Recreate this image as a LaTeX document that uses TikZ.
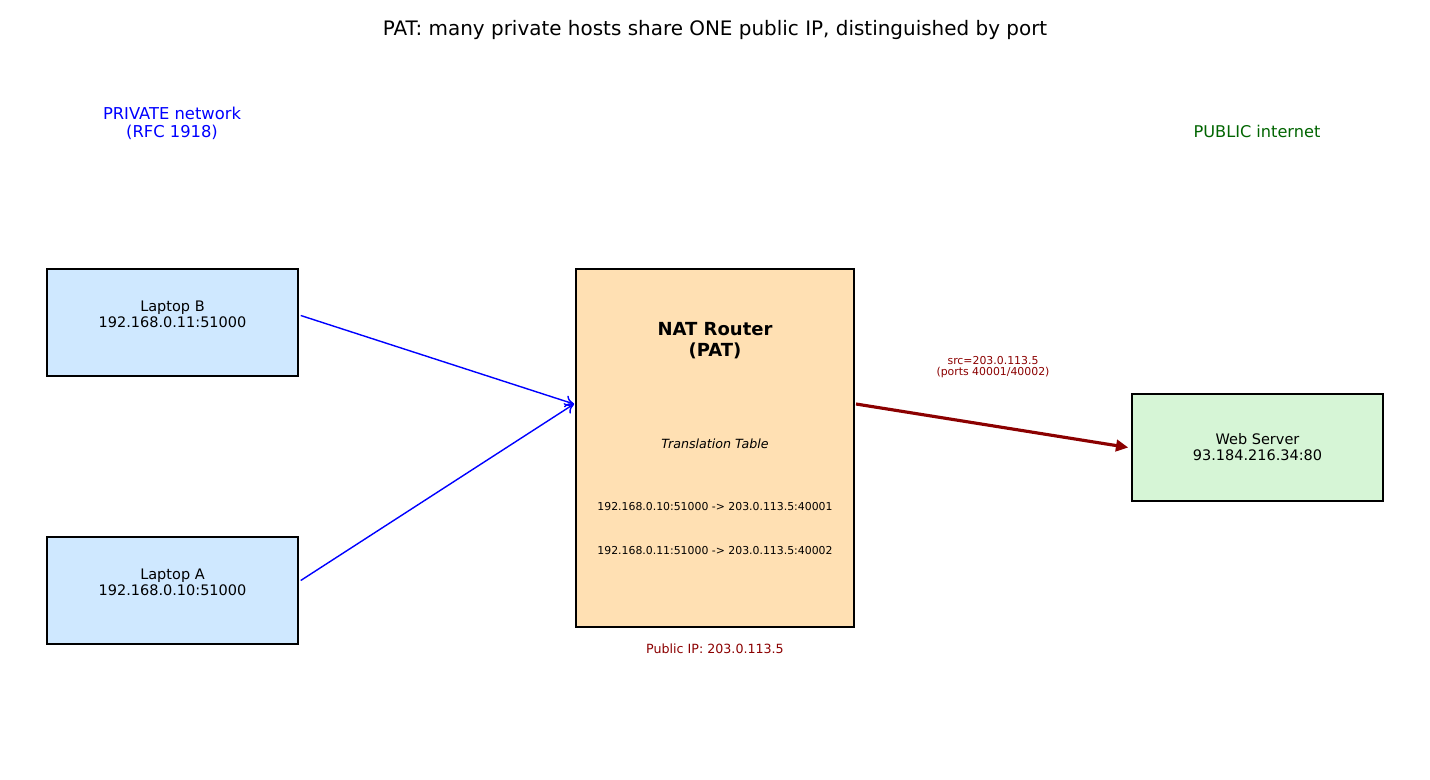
\documentclass[tikz,border=0pt]{standalone}
\usepackage{fontspec}
\setmainfont{DejaVu Sans}
\usetikzlibrary{arrows.meta}
\definecolor{hostblue}{HTML}{CFE8FF}
\definecolor{natorange}{HTML}{FFE0B3}
\definecolor{srvgreen}{HTML}{D6F5D6}
\definecolor{pubred}{HTML}{8B0000}
\definecolor{pubgreen}{HTML}{006400}
\newcommand{\fs}[2]{\fontsize{#1}{#2}\selectfont}
\begin{document}
\begin{tikzpicture}[x=0.02cm,y=-0.02cm,
  hostbox/.style={draw,line width=0.85pt,fill=hostblue,minimum width=5.02cm,minimum height=2.14cm},
  hosttext/.style={align=center,font=\fs{8.25}{9.1}},
  srvbox/.style={hostbox,hosttext,fill=srvgreen},
  natbox/.style={draw,line width=0.85pt,fill=natorange,minimum width=5.56cm,minimum height=7.16cm},
  lanlink/.style={blue,line width=0.8pt,-{To[length=5pt,width=7pt]}},
  wanlink/.style={pubred,line width=1.8pt,-{Triangle[length=7pt,width=6.5pt]}}]
\useasboundingbox (0,0) rectangle (1430,780);
\node[font=\fs{11.35}{13.6}] (title) at (715,30) {PAT: many private hosts share ONE public IP, distinguished by port};
\node[blue,align=center,font=\fs{9.3}{10.2}] (privlbl) at (172,123) {PRIVATE network\\(RFC 1918)};
\node[pubgreen,font=\fs{9.2}{11}] (publbl) at (1257,131) {PUBLIC internet};
\node[hostbox] (lapB) at (172.5,322.5) {};
\node[hosttext] (lapBtxt) at (172.5,314) {Laptop B\\192.168.0.11:51000};
\node[hostbox] (lapA) at (172.5,590.5) {};
\node[hosttext] (lapAtxt) at (172.5,582) {Laptop A\\192.168.0.10:51000};
\node[natbox] (nat) at (715,448) {};
\node[align=center,font=\bfseries\fs{10.25}{11.9}] (natname) at (715,341) {NAT Router\\(PAT)};
\node[font=\itshape\fs{7.2}{8.6}] (tbl) at (715,444) {Translation Table};
\node[font=\fs{6.2}{7.4}] (row1) at (715,507) {192.168.0.10:51000 -> 203.0.113.5:40001};
\node[font=\fs{6.2}{7.4}] (row2) at (715,551) {192.168.0.11:51000 -> 203.0.113.5:40002};
\node[pubred,font=\fs{7.2}{8.6}] (pubip) at (715,649) {Public IP: 203.0.113.5};
\node[srvbox] (web) at (1257.5,447.5) {Web Server\\93.184.216.34:80};
\coordinate (natin) at (574,404);
\coordinate (natout) at (856,404);
\draw[lanlink] ([shift={(2,-7)}]lapB.east) -- (natin);
\draw[lanlink] ([shift={(2,-10)}]lapA.east) -- (natin);
\draw[wanlink] (natout) -- ([shift={(-3,0)}]web.west);
\node[pubred,align=center,font=\fs{6.2}{6.7}] (srclbl) at (993,367) {src=203.0.113.5\\(ports 40001/40002)};
\end{tikzpicture}
\end{document}
